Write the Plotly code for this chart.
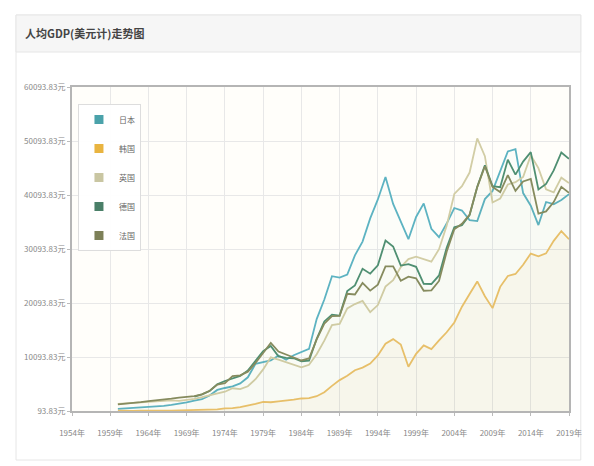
import plotly.graph_objects as go

years = list(range(1960, 2020))
japan = [479, 563, 633, 717, 835, 919, 1058, 1229, 1450, 1669, 2037, 2272, 2967, 3997, 4354, 4659, 5197, 6335, 8821, 9105,
         9463, 10361, 9578, 10425, 10979, 11585, 17112, 20745, 25052, 24813, 25359, 28925, 31465, 35766, 39269, 43429, 38437, 35022, 31903, 36027,
         38532, 33846, 32289, 34808, 37689, 37218, 35434, 35275, 39339, 40855, 44508, 48168, 48603, 40454, 38109, 34524, 38795, 38387, 39159, 40247]
korea = [158, 93.83, 106, 146, 124, 109, 133, 161, 198, 243, 279, 301, 324, 406, 563, 615, 830, 1052, 1406, 1784,
         1715, 1884, 1993, 2199, 2413, 2482, 2835, 3555, 4749, 5817, 6610, 7637, 8127, 8885, 10385, 12565, 13403, 12398, 8282, 10672,
         12257, 11561, 13165, 14673, 16496, 19403, 21743, 24086, 21350, 19144, 23087, 25096, 25467, 27182, 29253, 28737, 29280, 31605, 33423, 31902]
uk = [1398, 1472, 1526, 1613, 1748, 1874, 1987, 2058, 1952, 2101, 2348, 2650, 3030, 3426, 3666, 4300, 4138, 4681, 5977, 7805,
      10032, 9599, 9146, 8692, 8179, 8652, 10611, 13119, 15987, 16239, 19095, 19900, 20487, 18389, 19709, 23123, 24332, 26734, 28214, 28669,
      28150, 27745, 30057, 34420, 40290, 41733, 44252, 50567, 47287, 38713, 39436, 42039, 42463, 43426, 47440, 45071, 41146, 40572, 43306, 42300]
germany = [None] * 10 + [2761, 3188, 3805, 5044, 5648, 6170, 6593, 7602, 9378, 11185,
           12138, 10209, 9914, 9865, 9313, 9429, 13463, 16677, 17932, 17764, 22304, 23357, 26438, 25523, 27077, 31659, 30560, 27029, 27305, 26797,
           23636, 23608, 25197, 30310, 34107, 34520, 36354, 41640, 45613, 41732, 41532, 46645, 43858, 46286, 48024, 41103, 42136, 44653, 47974, 46795]
france = [1338, 1428, 1581, 1744, 1926, 2046, 2206, 2371, 2559, 2688, 2863, 3174, 3825, 4991, 5252, 6546, 6686, 7375, 8990, 10850,
          12713, 11105, 10496, 10006, 9449, 9817, 13356, 16256, 17661, 17727, 21794, 21675, 23814, 22389, 23495, 26890, 26871, 24228, 24974, 24674,
          22364, 22434, 24177, 29569, 33741, 34760, 36470, 41558, 45413, 41575, 40638, 43791, 40875, 42603, 43068, 36653, 37063, 38781, 41592, 40494]

series_names = ["日本", "韩国", "英国", "德国", "法国"]
series_values = [japan, korea, uk, germany, france]
colors = ["#5db3c2", "#ebc26a", "#d2cda5", "#4f8f72", "#868b5e"]
legend_colors = ["#4aa2aa", "#e9b440", "#c9c6a2", "#4a7f68", "#7d8058"]
fill_alpha = [0.015, 0.06, 0.015, 0.012, 0.012]

x_ticks = list(range(1954, 2020, 5))
x_labels = [f"{y}年" for y in x_ticks]
y_ticks = [93.83 + 10000 * i for i in range(7)]
y_labels = [f"{v:.2f}元" for v in y_ticks]


def rgba(h, a):
    h = h.lstrip("#")
    return f"rgba({int(h[0:2],16)},{int(h[2:4],16)},{int(h[4:6],16)},{a})"


fig = go.Figure()
for name, vals, c, a in zip(series_names, series_values, colors, fill_alpha):
    fig.add_trace(go.Scatter(x=years, y=vals, mode="lines", name=name, showlegend=False,
                             line=dict(color=c, width=1.8), fill="tozeroy",
                             fillcolor=rgba(c, a), connectgaps=False))
for i, (name, c) in enumerate(zip(series_names, legend_colors)):
    fig.add_trace(go.Scatter(x=[None], y=[None], mode="markers", name=name, legendgroup=f"g{i}",
                             marker=dict(symbol="square", size=9, color=c)))

# page body has an 8px margin, so the figure is offset by 8px
W, H = 586, 458
L, R, T, B = 64, 16, 79, 55
PW, PH = W - L - R, H - T - B


def px(x):
    return (x - L) / PW


def py(y):
    return (H - B - y) / PH


fig.update_layout(
    width=W, height=H,
    margin=dict(l=L, r=R, t=T, b=B),
    paper_bgcolor="white",
    plot_bgcolor="#fffefa",
    font=dict(family="Noto Sans CJK SC", size=8, color="#777"),
    legend=dict(x=0.012, y=py(96), xanchor="left", yanchor="top",
                bgcolor="rgba(255,255,255,0.95)", bordercolor="#dddddd", borderwidth=1,
                font=dict(size=8, color="#666"), tracegroupgap=10, itemwidth=30),
    xaxis=dict(range=[1954, 2019], tickvals=x_ticks, ticktext=x_labels, showgrid=True,
               gridcolor="#e8e8e8", gridwidth=1, showline=True, linecolor="#b5b5b5", linewidth=2,
               mirror=True, ticks="outside", ticklen=3, tickcolor="#bbb", zeroline=False,
               ticklabelstandoff=10, tickfont=dict(size=8, color="#888")),
    yaxis=dict(range=[93.83, 60093.83], tickvals=y_ticks, ticktext=y_labels, showgrid=True,
               gridcolor="#e8e8e8", gridwidth=1, showline=True, linecolor="#b5b5b5", linewidth=2,
               mirror=True, ticks="outside", ticklen=3, tickcolor="#bbb", zeroline=False,
               tickfont=dict(size=8, color="#888")),
    shapes=[
        dict(type="rect", xref="paper", yref="paper", x0=px(7), x1=px(582), y0=py(452), y1=py(7),
             line=dict(color="#e6e6e6", width=1), fillcolor="rgba(0,0,0,0)", layer="below"),
        dict(type="rect", xref="paper", yref="paper", x0=px(7), x1=px(582), y0=py(44), y1=py(7),
             line=dict(color="#e6e6e6", width=1), fillcolor="#f6f6f6", layer="below"),
    ],
    annotations=[
        dict(text="<b>人均GDP(美元计)走势图</b>", xref="paper", yref="paper",
             x=px(14), y=py(25), xanchor="left", yanchor="middle",
             showarrow=False, font=dict(size=11, color="#444", family="Noto Sans CJK SC")),
    ],
)

fig.write_html("out.html")
